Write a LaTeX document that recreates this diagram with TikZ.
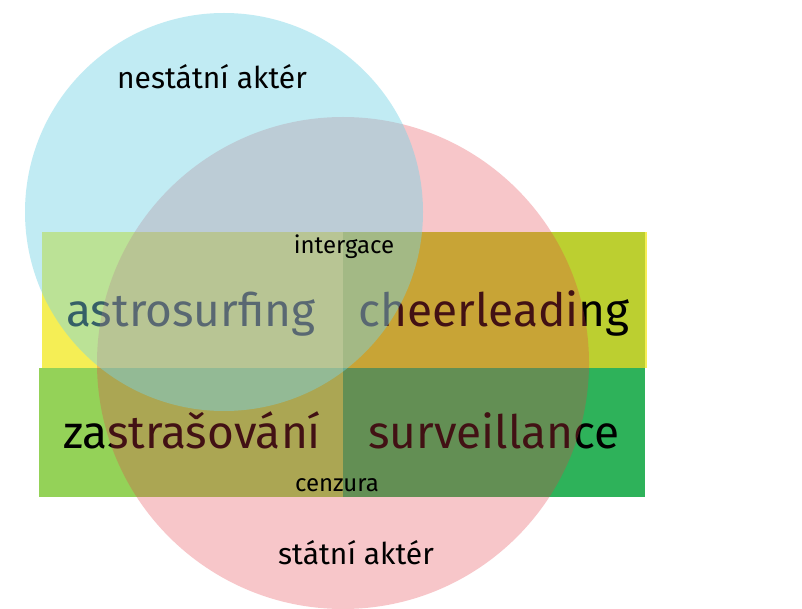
\documentclass[tikz,border=0pt]{standalone}
\usepackage{fontspec}
\setmainfont{Fira Sans}
\usepackage{tikz}

\begin{document}
\begin{tikzpicture}[x=1pt,y=-1pt]
\definecolor{background}{RGB}{255,255,255}
\definecolor{yellowcolor}{RGB}{245,238,85}
\definecolor{limecolor}{RGB}{188,207,48}
\definecolor{greencolor}{RGB}{148,210,88}
\definecolor{darkgreencolor}{RGB}{46,178,90}
\definecolor{redcolor}{RGB}{230,60,72}
\definecolor{bluecolor}{RGB}{118,212,230}
\definecolor{textcolor}{RGB}{0,0,0}
\tikzset{bigword/.style={anchor=base,inner sep=0pt,text=textcolor,font=\fontsize{46}{50}\selectfont},
  actorlabel/.style={anchor=base,inner sep=0pt,text=textcolor,font=\fontsize{30}{34}\selectfont},
  edgelabel/.style={anchor=base,inner sep=0pt,text=textcolor,font=\fontsize{24}{28}\selectfont}}
\fill [background] (0,0) rectangle (802,609);
\useasboundingbox (0,0) rectangle (802,609);
% quadrants
\fill [yellowcolor] (42,232) rectangle (647,368);
\fill [limecolor] (343,232) rectangle (645,368);
\fill [greencolor] (39,368) rectangle (343,497);
\fill [darkgreencolor] (343,368) rectangle (645,497);
\node [bigword] (astro) at (191,326) {astrosurfing};
\node [bigword] (cheer) at (494,326) {cheerleading};
\node [bigword] (intim) at (192,448) {zastrašování};
\node [bigword] (surv) at (494,448) {surveillance};
% actors
\fill [redcolor,fill opacity=0.29] (343,363) circle [radius=246];
\fill [bluecolor,fill opacity=0.45] (224,212) circle [radius=199];
\node [actorlabel] (nonstate) at (212,89) {nestátní aktér};
\node [actorlabel] (state) at (356,564) {státní aktér};
\node [edgelabel] (integ) at (344,254) {intergace};
\node [edgelabel] (censor) at (337,491) {cenzura};
\end{tikzpicture}
\end{document}
